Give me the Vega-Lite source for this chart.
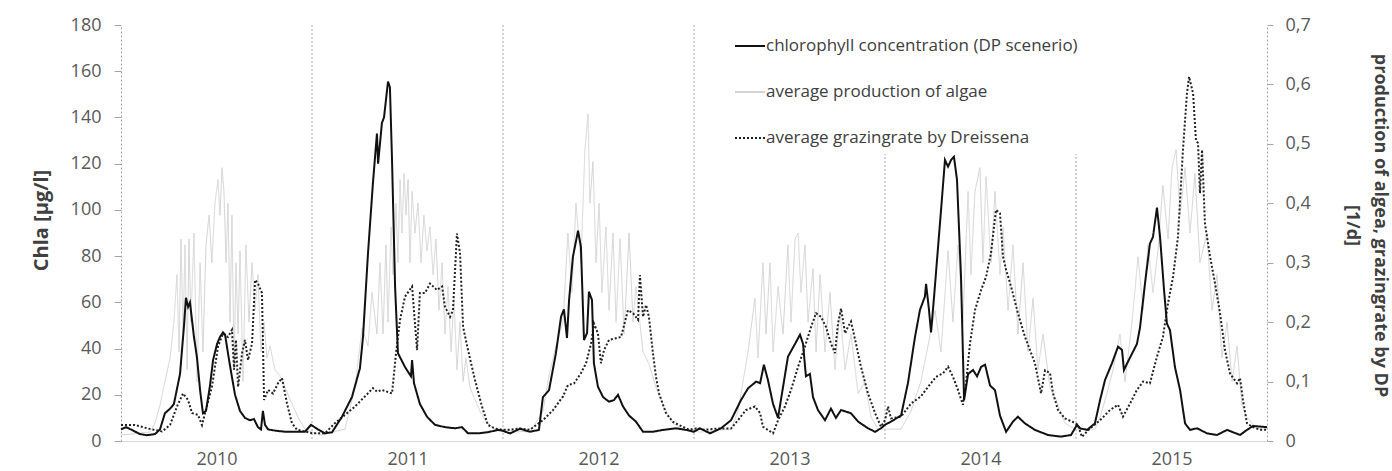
{
"$schema": "https://vega.github.io/schema/vega-lite/v6.json",
"width": 1146, "height": 416,
"autosize": {"type": "none"},
"padding": {"left": 121, "top": 25, "right": 125, "bottom": 30},
"background": "white",
"config": {
  "font": "Open Sans",
  "view": {"stroke": null},
  "axis": {"labelFont": "Open Sans", "labelFontSize": 18, "labelColor": "#595959", "titleFont": "Open Sans", "titleFontSize": 18, "titleFontWeight": "bold", "titleColor": "#404040", "grid": false}
},
"datasets": {
"years": [{"yr": 2011}, {"yr": 2012}, {"yr": 2013}, {"yr": 2014}, {"yr": 2015}],
"chla": [
{"x":2010.000,"c":5},{"x":2010.026,"c":6},{"x":2010.052,"c":5},{"x":2010.099,"c":3},{"x":2010.136,"c":2.5},{"x":2010.178,"c":3},{"x":2010.204,"c":5},{"x":2010.230,"c":12},{"x":2010.257,"c":14},{"x":2010.277,"c":16},{"x":2010.309,"c":29},{"x":2010.330,"c":50},{"x":2010.340,"c":62},{"x":2010.351,"c":58},{"x":2010.361,"c":60},{"x":2010.382,"c":45},{"x":2010.398,"c":36},{"x":2010.414,"c":22},{"x":2010.429,"c":12},{"x":2010.445,"c":13},{"x":2010.466,"c":24},{"x":2010.482,"c":35},{"x":2010.503,"c":42},{"x":2010.518,"c":45},{"x":2010.534,"c":47},{"x":2010.545,"c":46},{"x":2010.560,"c":38},{"x":2010.576,"c":30},{"x":2010.597,"c":20},{"x":2010.623,"c":13},{"x":2010.649,"c":10},{"x":2010.675,"c":9},{"x":2010.696,"c":9.5},{"x":2010.717,"c":6},{"x":2010.733,"c":5},{"x":2010.743,"c":13},{"x":2010.754,"c":7},{"x":2010.770,"c":5},{"x":2010.806,"c":4.5},{"x":2010.859,"c":4},{"x":2010.911,"c":4},{"x":2010.963,"c":4},{"x":2010.995,"c":7},
{"x":2011.031,"c":5},{"x":2011.068,"c":3.3},{"x":2011.105,"c":3.8},{"x":2011.157,"c":10.5},{"x":2011.209,"c":19},{"x":2011.251,"c":31.5},{"x":2011.267,"c":45},{"x":2011.293,"c":81},{"x":2011.319,"c":111.6},{"x":2011.340,"c":133},{"x":2011.346,"c":120},{"x":2011.366,"c":137.6},{"x":2011.377,"c":140},{"x":2011.398,"c":155.5},{"x":2011.408,"c":153},{"x":2011.419,"c":121.6},{"x":2011.435,"c":66.8},{"x":2011.450,"c":38},{"x":2011.487,"c":32},{"x":2011.518,"c":28},{"x":2011.524,"c":35},{"x":2011.534,"c":25},{"x":2011.565,"c":16},{"x":2011.602,"c":10.5},{"x":2011.644,"c":7},{"x":2011.696,"c":6},{"x":2011.749,"c":5.5},{"x":2011.785,"c":6},{"x":2011.817,"c":3.3},{"x":2011.869,"c":3.3},{"x":2011.921,"c":3.8},{"x":2011.974,"c":4.8},
{"x":2011.995,"c":4.5},{"x":2012.037,"c":3.3},{"x":2012.089,"c":5.3},{"x":2012.141,"c":4},{"x":2012.188,"c":4.8},{"x":2012.209,"c":19},{"x":2012.241,"c":22},{"x":2012.277,"c":38},{"x":2012.304,"c":53.8},{"x":2012.319,"c":57},{"x":2012.335,"c":44.6},{"x":2012.346,"c":61},{"x":2012.366,"c":79.7},{"x":2012.393,"c":91},{"x":2012.408,"c":84},{"x":2012.424,"c":43.7},{"x":2012.440,"c":46.7},{"x":2012.450,"c":64.6},{"x":2012.466,"c":61},{"x":2012.476,"c":33.6},{"x":2012.497,"c":23.5},{"x":2012.524,"c":19},{"x":2012.555,"c":17},{"x":2012.581,"c":17.7},{"x":2012.602,"c":20},{"x":2012.628,"c":15},{"x":2012.660,"c":11},{"x":2012.696,"c":8.4},{"x":2012.733,"c":4},{"x":2012.785,"c":4},{"x":2012.838,"c":4.8},{"x":2012.906,"c":5.5},{"x":2012.958,"c":4.8},{"x":2013.000,"c":4},
{"x":2013.031,"c":5.5},{"x":2013.084,"c":3.3},{"x":2013.141,"c":5.5},{"x":2013.194,"c":9},{"x":2013.246,"c":17.7},{"x":2013.283,"c":22.8},{"x":2013.325,"c":25.7},{"x":2013.346,"c":25},{"x":2013.366,"c":33},{"x":2013.387,"c":26.4},{"x":2013.414,"c":16},{"x":2013.440,"c":10},{"x":2013.455,"c":17.7},{"x":2013.492,"c":36.5},{"x":2013.529,"c":42},{"x":2013.555,"c":46},{"x":2013.571,"c":42},{"x":2013.586,"c":28},{"x":2013.607,"c":29},{"x":2013.623,"c":19},{"x":2013.649,"c":13.4},{"x":2013.686,"c":9},{"x":2013.717,"c":14},{"x":2013.743,"c":10},{"x":2013.770,"c":13.4},{"x":2013.822,"c":12},{"x":2013.859,"c":8.4},{"x":2013.911,"c":5.5},{"x":2013.948,"c":4},{"x":2013.979,"c":5.5},
{"x":2014.000,"c":7},{"x":2014.031,"c":8.4},{"x":2014.084,"c":11},{"x":2014.120,"c":25},{"x":2014.157,"c":45},{"x":2014.183,"c":56.7},{"x":2014.209,"c":62.5},{"x":2014.215,"c":68},{"x":2014.230,"c":57},{"x":2014.241,"c":47},{"x":2014.257,"c":62.5},{"x":2014.272,"c":78},{"x":2014.293,"c":99.5},{"x":2014.314,"c":121.6},{"x":2014.330,"c":118.7},{"x":2014.346,"c":121.6},{"x":2014.361,"c":123},{"x":2014.377,"c":113},{"x":2014.398,"c":71},{"x":2014.414,"c":17.7},{"x":2014.435,"c":29},{"x":2014.461,"c":30.7},{"x":2014.482,"c":28},{"x":2014.503,"c":32},{"x":2014.524,"c":33},{"x":2014.550,"c":24},{"x":2014.576,"c":22},{"x":2014.602,"c":11},{"x":2014.634,"c":4},{"x":2014.670,"c":8.4},{"x":2014.696,"c":10.5},{"x":2014.733,"c":7.6},{"x":2014.785,"c":4.8},{"x":2014.853,"c":2.6},{"x":2014.921,"c":1.9},{"x":2014.974,"c":2.6},{"x":2015.005,"c":7},
{"x":2015.021,"c":5.5},{"x":2015.058,"c":4.8},{"x":2015.099,"c":7.6},{"x":2015.126,"c":17.7},{"x":2015.152,"c":26.4},{"x":2015.188,"c":33.6},{"x":2015.220,"c":40.8},{"x":2015.241,"c":39.4},{"x":2015.251,"c":30.7},{"x":2015.272,"c":34.3},{"x":2015.319,"c":42},{"x":2015.335,"c":49},{"x":2015.361,"c":68},{"x":2015.387,"c":85.4},{"x":2015.403,"c":88.3},{"x":2015.424,"c":101},{"x":2015.440,"c":88.3},{"x":2015.461,"c":65.3},{"x":2015.476,"c":50.8},{"x":2015.492,"c":48},{"x":2015.518,"c":32},{"x":2015.545,"c":22},{"x":2015.571,"c":7.6},{"x":2015.597,"c":4.8},{"x":2015.634,"c":5.5},{"x":2015.686,"c":3.3},{"x":2015.738,"c":2.6},{"x":2015.791,"c":4.8},{"x":2015.859,"c":2.6},{"x":2015.895,"c":4.8},{"x":2015.927,"c":6.5},{"x":2016.000,"c":6}
],
"graz": [
{"x":2010.000,"g":0.027},{"x":2010.073,"g":0.027},{"x":2010.141,"g":0.021},{"x":2010.215,"g":0.016},{"x":2010.257,"g":0.027},{"x":2010.293,"g":0.058},{"x":2010.325,"g":0.080},{"x":2010.351,"g":0.069},{"x":2010.372,"g":0.047},{"x":2010.403,"g":0.044},{"x":2010.424,"g":0.027},{"x":2010.440,"g":0.047},{"x":2010.476,"g":0.091},{"x":2010.508,"g":0.159},{"x":2010.534,"g":0.181},{"x":2010.560,"g":0.175},{"x":2010.581,"g":0.187},{"x":2010.592,"g":0.12},{"x":2010.602,"g":0.17},{"x":2010.613,"g":0.091},{"x":2010.634,"g":0.148},{"x":2010.649,"g":0.170},{"x":2010.665,"g":0.136},{"x":2010.686,"g":0.164},{"x":2010.702,"g":0.271},{"x":2010.717,"g":0.265},{"x":2010.738,"g":0.249},{"x":2010.749,"g":0.069},{"x":2010.770,"g":0.086},{"x":2010.796,"g":0.080},{"x":2010.822,"g":0.097},{"x":2010.843,"g":0.106},{"x":2010.869,"g":0.063},{"x":2010.895,"g":0.030},{"x":2010.921,"g":0.019},{"x":2010.963,"g":0.016},
{"x":2011.000,"g":0.013},{"x":2011.068,"g":0.013},{"x":2011.120,"g":0.030},{"x":2011.173,"g":0.044},{"x":2011.225,"g":0.058},{"x":2011.277,"g":0.075},{"x":2011.319,"g":0.089},{"x":2011.340,"g":0.083},{"x":2011.366,"g":0.086},{"x":2011.419,"g":0.080},{"x":2011.440,"g":0.148},{"x":2011.461,"g":0.204},{"x":2011.487,"g":0.243},{"x":2011.524,"g":0.260},{"x":2011.550,"g":0.153},{"x":2011.565,"g":0.249},{"x":2011.592,"g":0.249},{"x":2011.618,"g":0.265},{"x":2011.654,"g":0.254},{"x":2011.681,"g":0.260},{"x":2011.696,"g":0.226},{"x":2011.723,"g":0.209},{"x":2011.738,"g":0.220},{"x":2011.759,"g":0.349},{"x":2011.775,"g":0.316},{"x":2011.791,"g":0.192},{"x":2011.817,"g":0.153},{"x":2011.853,"g":0.103},{"x":2011.890,"g":0.058},{"x":2011.921,"g":0.027},{"x":2011.958,"g":0.021},{"x":2011.995,"g":0.019},
{"x":2012.037,"g":0.019},{"x":2012.089,"g":0.021},{"x":2012.141,"g":0.019},{"x":2012.209,"g":0.035},{"x":2012.262,"g":0.052},{"x":2012.314,"g":0.075},{"x":2012.340,"g":0.094},{"x":2012.372,"g":0.097},{"x":2012.408,"g":0.114},{"x":2012.435,"g":0.131},{"x":2012.461,"g":0.164},{"x":2012.476,"g":0.198},{"x":2012.497,"g":0.181},{"x":2012.513,"g":0.131},{"x":2012.529,"g":0.153},{"x":2012.555,"g":0.170},{"x":2012.592,"g":0.173},{"x":2012.618,"g":0.175},{"x":2012.654,"g":0.220},{"x":2012.681,"g":0.215},{"x":2012.707,"g":0.204},{"x":2012.717,"g":0.279},{"x":2012.733,"g":0.209},{"x":2012.749,"g":0.229},{"x":2012.764,"g":0.209},{"x":2012.785,"g":0.148},{"x":2012.801,"g":0.108},{"x":2012.817,"g":0.080},{"x":2012.853,"g":0.047},{"x":2012.890,"g":0.032},{"x":2012.921,"g":0.027},{"x":2012.974,"g":0.019},
{"x":2013.010,"g":0.021},{"x":2013.058,"g":0.019},{"x":2013.126,"g":0.021},{"x":2013.194,"g":0.021},{"x":2013.230,"g":0.035},{"x":2013.272,"g":0.052},{"x":2013.319,"g":0.058},{"x":2013.346,"g":0.047},{"x":2013.361,"g":0.024},{"x":2013.414,"g":0.013},{"x":2013.440,"g":0.035},{"x":2013.476,"g":0.058},{"x":2013.508,"g":0.086},{"x":2013.545,"g":0.125},{"x":2013.581,"g":0.159},{"x":2013.613,"g":0.192},{"x":2013.639,"g":0.215},{"x":2013.665,"g":0.209},{"x":2013.691,"g":0.192},{"x":2013.717,"g":0.164},{"x":2013.738,"g":0.148},{"x":2013.754,"g":0.198},{"x":2013.770,"g":0.223},{"x":2013.791,"g":0.181},{"x":2013.806,"g":0.192},{"x":2013.822,"g":0.201},{"x":2013.848,"g":0.164},{"x":2013.874,"g":0.125},{"x":2013.911,"g":0.080},{"x":2013.948,"g":0.047},{"x":2013.979,"g":0.024},
{"x":2014.000,"g":0.035},{"x":2014.016,"g":0.058},{"x":2014.031,"g":0.038},{"x":2014.084,"g":0.041},{"x":2014.136,"g":0.063},{"x":2014.188,"g":0.075},{"x":2014.225,"g":0.091},{"x":2014.267,"g":0.108},{"x":2014.304,"g":0.114},{"x":2014.330,"g":0.125},{"x":2014.356,"g":0.108},{"x":2014.382,"g":0.086},{"x":2014.408,"g":0.061},{"x":2014.424,"g":0.097},{"x":2014.445,"g":0.164},{"x":2014.471,"g":0.220},{"x":2014.503,"g":0.254},{"x":2014.529,"g":0.276},{"x":2014.555,"g":0.316},{"x":2014.581,"g":0.389},{"x":2014.602,"g":0.383},{"x":2014.618,"g":0.310},{"x":2014.634,"g":0.288},{"x":2014.660,"g":0.260},{"x":2014.696,"g":0.215},{"x":2014.733,"g":0.175},{"x":2014.759,"g":0.153},{"x":2014.785,"g":0.131},{"x":2014.817,"g":0.080},{"x":2014.838,"g":0.119},{"x":2014.864,"g":0.114},{"x":2014.880,"g":0.080},{"x":2014.906,"g":0.052},{"x":2014.942,"g":0.038},{"x":2014.984,"g":0.032},{"x":2015.010,"g":0.027},
{"x":2015.031,"g":0.007},{"x":2015.073,"g":0.021},{"x":2015.126,"g":0.035},{"x":2015.178,"g":0.052},{"x":2015.220,"g":0.061},{"x":2015.246,"g":0.041},{"x":2015.283,"g":0.063},{"x":2015.319,"g":0.086},{"x":2015.351,"g":0.100},{"x":2015.387,"g":0.097},{"x":2015.424,"g":0.142},{"x":2015.455,"g":0.175},{"x":2015.482,"g":0.232},{"x":2015.508,"g":0.276},{"x":2015.534,"g":0.344},{"x":2015.560,"g":0.490},{"x":2015.581,"g":0.585},{"x":2015.592,"g":0.613},{"x":2015.613,"g":0.585},{"x":2015.628,"g":0.506},{"x":2015.639,"g":0.501},{"x":2015.649,"g":0.417},{"x":2015.660,"g":0.490},{"x":2015.675,"g":0.366},{"x":2015.702,"g":0.310},{"x":2015.728,"g":0.265},{"x":2015.754,"g":0.215},{"x":2015.780,"g":0.153},{"x":2015.806,"g":0.114},{"x":2015.843,"g":0.097},{"x":2015.859,"g":0.106},{"x":2015.874,"g":0.069},{"x":2015.895,"g":0.030},{"x":2015.921,"g":0.024},{"x":2015.963,"g":0.019},{"x":2016.000,"g":0.019}
],
"prod": [
{"x":2010.000,"p":0.01},{"x":2010.152,"p":0.015},{"x":2010.178,"p":0.03},{"x":2010.204,"p":0.06},{"x":2010.230,"p":0.10},{"x":2010.257,"p":0.14},{"x":2010.277,"p":0.20},{"x":2010.293,"p":0.28},{"x":2010.304,"p":0.15},{"x":2010.314,"p":0.34},{"x":2010.325,"p":0.18},{"x":2010.335,"p":0.33},{"x":2010.346,"p":0.12},{"x":2010.356,"p":0.34},{"x":2010.366,"p":0.20},{"x":2010.382,"p":0.35},{"x":2010.398,"p":0.10},{"x":2010.414,"p":0.30},{"x":2010.429,"p":0.15},{"x":2010.445,"p":0.33},{"x":2010.461,"p":0.38},{"x":2010.476,"p":0.30},{"x":2010.492,"p":0.40},{"x":2010.508,"p":0.44},{"x":2010.518,"p":0.38},{"x":2010.529,"p":0.46},{"x":2010.539,"p":0.42},{"x":2010.550,"p":0.30},{"x":2010.560,"p":0.40},{"x":2010.571,"p":0.20},{"x":2010.581,"p":0.38},{"x":2010.592,"p":0.12},{"x":2010.602,"p":0.30},{"x":2010.613,"p":0.18},{"x":2010.623,"p":0.32},{"x":2010.639,"p":0.10},{"x":2010.654,"p":0.33},{"x":2010.670,"p":0.20},{"x":2010.686,"p":0.30},{"x":2010.702,"p":0.22},{"x":2010.717,"p":0.28},{"x":2010.733,"p":0.15},{"x":2010.749,"p":0.20},{"x":2010.764,"p":0.14},{"x":2010.780,"p":0.16},{"x":2010.806,"p":0.12},{"x":2010.832,"p":0.11},{"x":2010.859,"p":0.09},{"x":2010.885,"p":0.07},{"x":2010.927,"p":0.04},{"x":2010.963,"p":0.02},
{"x":2011.042,"p":0.01},{"x":2011.173,"p":0.02},{"x":2011.225,"p":0.09},{"x":2011.262,"p":0.19},{"x":2011.293,"p":0.16},{"x":2011.314,"p":0.25},{"x":2011.340,"p":0.18},{"x":2011.356,"p":0.30},{"x":2011.372,"p":0.18},{"x":2011.387,"p":0.33},{"x":2011.398,"p":0.20},{"x":2011.414,"p":0.36},{"x":2011.424,"p":0.28},{"x":2011.440,"p":0.40},{"x":2011.450,"p":0.30},{"x":2011.461,"p":0.44},{"x":2011.471,"p":0.35},{"x":2011.482,"p":0.45},{"x":2011.492,"p":0.38},{"x":2011.503,"p":0.44},{"x":2011.513,"p":0.30},{"x":2011.524,"p":0.42},{"x":2011.539,"p":0.35},{"x":2011.555,"p":0.40},{"x":2011.571,"p":0.30},{"x":2011.586,"p":0.38},{"x":2011.602,"p":0.32},{"x":2011.618,"p":0.36},{"x":2011.634,"p":0.28},{"x":2011.649,"p":0.34},{"x":2011.665,"p":0.22},{"x":2011.681,"p":0.30},{"x":2011.696,"p":0.18},{"x":2011.712,"p":0.26},{"x":2011.728,"p":0.15},{"x":2011.743,"p":0.24},{"x":2011.759,"p":0.12},{"x":2011.775,"p":0.20},{"x":2011.791,"p":0.10},{"x":2011.806,"p":0.14},{"x":2011.827,"p":0.09},{"x":2011.853,"p":0.07},{"x":2011.880,"p":0.05},{"x":2011.916,"p":0.03},{"x":2011.958,"p":0.02},
{"x":2012.141,"p":0.015},{"x":2012.209,"p":0.05},{"x":2012.241,"p":0.11},{"x":2012.277,"p":0.16},{"x":2012.314,"p":0.20},{"x":2012.340,"p":0.35},{"x":2012.361,"p":0.25},{"x":2012.382,"p":0.40},{"x":2012.408,"p":0.30},{"x":2012.429,"p":0.49},{"x":2012.445,"p":0.55},{"x":2012.455,"p":0.40},{"x":2012.471,"p":0.47},{"x":2012.487,"p":0.30},{"x":2012.503,"p":0.40},{"x":2012.518,"p":0.25},{"x":2012.539,"p":0.36},{"x":2012.555,"p":0.22},{"x":2012.576,"p":0.35},{"x":2012.592,"p":0.20},{"x":2012.613,"p":0.34},{"x":2012.634,"p":0.18},{"x":2012.660,"p":0.35},{"x":2012.681,"p":0.20},{"x":2012.696,"p":0.26},{"x":2012.733,"p":0.15},{"x":2012.764,"p":0.13},{"x":2012.801,"p":0.09},{"x":2012.838,"p":0.06},{"x":2012.890,"p":0.03},{"x":2012.942,"p":0.02},
{"x":2013.031,"p":0.015},{"x":2013.194,"p":0.02},{"x":2013.230,"p":0.05},{"x":2013.283,"p":0.15},{"x":2013.319,"p":0.24},{"x":2013.335,"p":0.14},{"x":2013.361,"p":0.30},{"x":2013.377,"p":0.18},{"x":2013.398,"p":0.30},{"x":2013.414,"p":0.15},{"x":2013.440,"p":0.26},{"x":2013.466,"p":0.18},{"x":2013.492,"p":0.33},{"x":2013.508,"p":0.20},{"x":2013.529,"p":0.34},{"x":2013.545,"p":0.35},{"x":2013.560,"p":0.25},{"x":2013.581,"p":0.33},{"x":2013.597,"p":0.20},{"x":2013.623,"p":0.29},{"x":2013.639,"p":0.15},{"x":2013.660,"p":0.28},{"x":2013.686,"p":0.15},{"x":2013.712,"p":0.25},{"x":2013.738,"p":0.12},{"x":2013.764,"p":0.22},{"x":2013.791,"p":0.12},{"x":2013.822,"p":0.18},{"x":2013.859,"p":0.08},{"x":2013.895,"p":0.10},{"x":2013.927,"p":0.04},{"x":2013.963,"p":0.02},
{"x":2014.084,"p":0.02},{"x":2014.136,"p":0.05},{"x":2014.188,"p":0.10},{"x":2014.225,"p":0.16},{"x":2014.262,"p":0.22},{"x":2014.293,"p":0.15},{"x":2014.330,"p":0.32},{"x":2014.356,"p":0.20},{"x":2014.382,"p":0.33},{"x":2014.408,"p":0.20},{"x":2014.435,"p":0.42},{"x":2014.450,"p":0.28},{"x":2014.471,"p":0.42},{"x":2014.497,"p":0.46},{"x":2014.513,"p":0.30},{"x":2014.529,"p":0.445},{"x":2014.555,"p":0.30},{"x":2014.576,"p":0.42},{"x":2014.602,"p":0.28},{"x":2014.618,"p":0.36},{"x":2014.644,"p":0.22},{"x":2014.670,"p":0.33},{"x":2014.696,"p":0.18},{"x":2014.723,"p":0.30},{"x":2014.749,"p":0.15},{"x":2014.775,"p":0.24},{"x":2014.801,"p":0.12},{"x":2014.827,"p":0.18},{"x":2014.864,"p":0.09},{"x":2014.895,"p":0.07},{"x":2014.942,"p":0.03},{"x":2014.995,"p":0.02},
{"x":2015.099,"p":0.02},{"x":2015.126,"p":0.04},{"x":2015.162,"p":0.08},{"x":2015.194,"p":0.12},{"x":2015.230,"p":0.18},{"x":2015.257,"p":0.10},{"x":2015.293,"p":0.20},{"x":2015.325,"p":0.31},{"x":2015.351,"p":0.22},{"x":2015.377,"p":0.33},{"x":2015.403,"p":0.25},{"x":2015.429,"p":0.32},{"x":2015.455,"p":0.43},{"x":2015.482,"p":0.34},{"x":2015.503,"p":0.46},{"x":2015.524,"p":0.49},{"x":2015.545,"p":0.38},{"x":2015.571,"p":0.46},{"x":2015.597,"p":0.35},{"x":2015.623,"p":0.45},{"x":2015.649,"p":0.30},{"x":2015.686,"p":0.35},{"x":2015.712,"p":0.22},{"x":2015.738,"p":0.28},{"x":2015.764,"p":0.14},{"x":2015.791,"p":0.20},{"x":2015.817,"p":0.10},{"x":2015.843,"p":0.16},{"x":2015.869,"p":0.06},{"x":2015.895,"p":0.04},{"x":2015.948,"p":0.02},{"x":2016.000,"p":0.02}
]
},
"layer": [
  {
    "data": {"name": "years"},
    "mark": {"type": "rule", "color": "#a6a6a6", "strokeWidth": 1, "strokeDash": [2, 2]},
    "encoding": {
      "x": {"field": "yr", "type": "quantitative", "title": null,
        "scale": {"domain": [2010, 2016], "nice": false, "zero": false},
        "axis": {"values": [2010.5, 2011.5, 2012.5, 2013.5, 2014.5, 2015.5], "labelExpr": "'' + floor(datum.value)", "ticks": false, "tickSize": 0, "labelPadding": 9, "labelFlush": false, "labelOverlap": false, "domainColor": "#d9d9d9", "title": null, "grid": false}}
    }
  },
  {
    "layer": [
      {
        "data": {"name": "prod"},
        "mark": {"type": "line", "strokeWidth": 1},
        "encoding": {
          "x": {"field": "x", "type": "quantitative", "title": null},
          "y": {"field": "p", "type": "quantitative", "scale": {"domain": [0, 0.7], "nice": false, "zero": true},
            "axis": {"orient": "right", "values": [0, 0.1, 0.2, 0.3, 0.4, 0.5, 0.6, 0.7], "labelExpr": "datum.value == 0 ? '0' : replace(format(datum.value, '.1f'), '.', ',')", "title": ["production of algea, grazingrate by DP", "[1/d]"], "titleAngle": 90, "titleAlign": "center", "titleBaseline": "alphabetic", "titleX": 107, "titleY": 200, "titleLineHeight": 28, "domainDash": [2, 2], "domainColor": "#a6a6a6", "tickColor": "#a6a6a6", "tickSize": 6, "labelPadding": 12, "labelFlush": false, "grid": false}},
          "color": {"datum": "average production of algae", "type": "nominal", "title": null,
            "scale": {"domain": ["chlorophyll concentration (DP scenerio)", "average production of algae", "average grazingrate by Dreissena"], "range": ["#111111", "#d4d4d4", "#222222"]},
            "legend": {"orient": "none", "legendX": 605, "legendY": -3, "symbolType": "stroke", "symbolSize": 900, "symbolStrokeWidth": 2, "labelFont": "Open Sans", "labelFontSize": 17, "labelColor": "#404040", "labelLimit": 0, "labelOffset": 0, "rowPadding": 22, "padding": 8, "fillColor": "white", "title": null}},
          "strokeDash": {"datum": "average production of algae", "type": "nominal", "title": null,
            "scale": {"domain": ["chlorophyll concentration (DP scenerio)", "average production of algae", "average grazingrate by Dreissena"], "range": [[1, 0], [1, 0], [2, 2]]},
            "legend": {"orient": "none", "legendX": 605, "legendY": -3, "symbolType": "stroke", "symbolSize": 900, "symbolStrokeWidth": 2, "labelFont": "Open Sans", "labelFontSize": 17, "labelColor": "#404040", "labelLimit": 0, "labelOffset": 0, "rowPadding": 22, "padding": 8, "fillColor": "white", "title": null}}
        }
      },
      {
        "data": {"name": "graz"},
        "mark": {"type": "line", "strokeWidth": 2},
        "encoding": {
          "x": {"field": "x", "type": "quantitative", "title": null},
          "y": {"field": "g", "type": "quantitative", "scale": {"domain": [0, 0.7], "nice": false, "zero": true},
            "axis": {"orient": "right", "values": [0, 0.1, 0.2, 0.3, 0.4, 0.5, 0.6, 0.7], "labelExpr": "datum.value == 0 ? '0' : replace(format(datum.value, '.1f'), '.', ',')", "title": ["production of algea, grazingrate by DP", "[1/d]"], "titleAngle": 90, "titleAlign": "center", "titleBaseline": "alphabetic", "titleX": 107, "titleY": 200, "titleLineHeight": 28, "domainDash": [2, 2], "domainColor": "#a6a6a6", "tickColor": "#a6a6a6", "tickSize": 6, "labelPadding": 12, "labelFlush": false, "grid": false}},
          "color": {"datum": "average grazingrate by Dreissena", "type": "nominal", "title": null},
          "strokeDash": {"datum": "average grazingrate by Dreissena", "type": "nominal", "title": null}
        }
      }
    ]
  },
  {
    "data": {"name": "chla"},
    "mark": {"type": "line", "strokeWidth": 2},
    "encoding": {
      "x": {"field": "x", "type": "quantitative", "title": null},
      "y": {"field": "c", "type": "quantitative", "scale": {"domain": [0, 180], "nice": false, "zero": true},
        "axis": {"orient": "left", "values": [0, 20, 40, 60, 80, 100, 120, 140, 160, 180], "title": "Chla [µg/l]", "titleFontSize": 20, "titleAngle": -90, "titleAlign": "center", "titleBaseline": "alphabetic", "titleX": -74, "titleY": 195, "domainDash": [2, 2], "domainColor": "#a6a6a6", "tickColor": "#a6a6a6", "tickSize": 7, "labelPadding": 13, "labelFlush": false, "grid": false}},
      "color": {"datum": "chlorophyll concentration (DP scenerio)", "type": "nominal", "title": null},
      "strokeDash": {"datum": "chlorophyll concentration (DP scenerio)", "type": "nominal", "title": null}
    }
  }
],
"resolve": {"scale": {"y": "independent"}}
}
